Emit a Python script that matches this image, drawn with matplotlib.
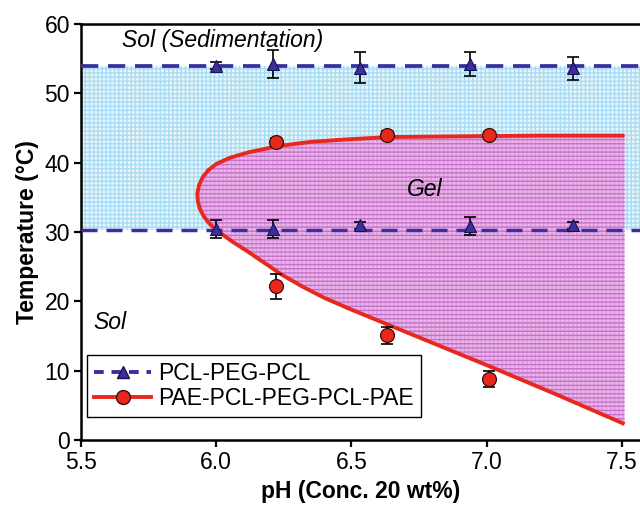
import matplotlib
matplotlib.use("Agg")
import matplotlib.pyplot as plt
from matplotlib.lines import Line2D

plt.rcParams['font.family'] = ['Liberation Sans', 'DejaVu Sans']
plt.rcParams['hatch.linewidth'] = 1.0

# PCL-PEG-PCL transitions
tri_ph = [6.00, 6.21, 6.53, 6.94, 7.32]
tri_upper = [54.0, 54.2, 53.7, 54.2, 53.6]
tri_upper_err = [0.5, 2.0, 2.2, 1.7, 1.7]
tri_lower = [30.4, 30.4, 31.0, 30.8, 31.0]
tri_lower_err = [1.3, 1.3, 0.5, 1.3, 0.5]
tri_upper_line = 54.0
tri_lower_line = 30.3

# PAE-PCL-PEG-PCL-PAE transitions
circ_ph = [6.22, 6.63, 7.01]
circ_upper = [43.0, 44.0, 44.0]
circ_upper_err = [0.6, 0.5, 0.4]
circ_lower = [22.2, 15.1, 8.8]
circ_lower_err = [1.8, 1.2, 1.2]

# Gel boundary curve
curve_ph = [7.51, 7.20, 6.90, 6.64, 6.46, 6.35, 6.23, 6.12, 6.05, 6.00, 5.97,
            5.95, 5.937, 5.93, 5.932, 5.94, 5.955, 5.975, 6.00, 6.06, 6.12,
            6.18, 6.24, 6.32, 6.40, 6.50, 6.65, 6.80, 7.00, 7.25, 7.51]
curve_T = [43.9, 43.9, 43.8, 43.7, 43.3, 43.0, 42.4, 41.5, 40.7, 39.8, 38.9,
           37.9, 36.8, 35.6, 34.4, 33.3, 32.2, 31.2, 30.3, 28.6, 27.1,
           25.5, 23.9, 22.1, 20.5, 18.8, 16.4, 14.0, 10.8, 6.7, 2.3]

blue = '#3b2f9e'
red = '#e8281e'
fs = 16.5

fig = plt.figure(figsize=(6.4, 5.05), dpi=100)
ax = fig.add_axes([81/640, 1-440/505, 1-81/640, (440-24)/505])
ax.set_xlim(5.5, 7.567)
ax.set_ylim(0, 60)

# Sol/gel regions
ax.fill_between([5.5, 7.6], tri_lower_line, tri_upper_line, facecolor='#e6f6fc',
                edgecolor='#a9dcf2', hatch='++++', linewidth=0, zorder=1)
ax.fill(curve_ph, curve_T, facecolor='#ecb6ea', edgecolor='#d89ada',
        hatch='||||', linewidth=0, zorder=2)
ax.fill(curve_ph, curve_T, facecolor='none', edgecolor='#c470ca',
        hatch='----', linewidth=0, zorder=2)

ax.axhline(tri_upper_line, color=blue, lw=2.7, ls=(0, (4.6, 2.6)), zorder=3)
ax.axhline(tri_lower_line, color=blue, lw=2.5, ls=(0, (4.6, 2.6)), zorder=3)
ax.plot(curve_ph, curve_T, color=red, lw=2.8, zorder=4, solid_capstyle='butt',
        solid_joinstyle='round')

eb = dict(fmt='none', ecolor='black', elinewidth=1.2, capsize=4.5, capthick=1.2, zorder=5)
ax.errorbar(tri_ph, tri_upper, yerr=tri_upper_err, **eb)
ax.errorbar(tri_ph, tri_lower, yerr=tri_lower_err, **eb)
ax.errorbar(circ_ph, circ_upper, yerr=circ_upper_err, **eb)
ax.errorbar(circ_ph, circ_lower, yerr=circ_lower_err, **eb)

ax.plot(tri_ph, tri_upper, ls='none', marker='^', ms=9, mfc=blue, mec='#1a1050', mew=0.8, zorder=6)
ax.plot(tri_ph, tri_lower, ls='none', marker='^', ms=9, mfc=blue, mec='#1a1050', mew=0.8, zorder=6)
ax.plot(circ_ph, circ_upper, ls='none', marker='o', ms=10, mfc=red, mec='#3a0a0a', mew=0.9, zorder=6)
ax.plot(circ_ph, circ_lower, ls='none', marker='o', ms=10, mfc=red, mec='#3a0a0a', mew=0.9, zorder=6)

ax.text(5.652, 57.6, 'Sol (Sedimentation)', style='italic', fontsize=fs, va='center', ha='left')
ax.text(6.77, 36.2, 'Gel', style='italic', fontsize=fs, va='center', ha='center')
ax.text(5.545, 17.0, 'Sol', style='italic', fontsize=fs, va='center', ha='left')

h1 = Line2D([], [], color=blue, lw=2.8, ls=(0, (2.5, 2)), marker='^', ms=9, mfc=blue, mec='#1a1050')
h2 = Line2D([], [], color=red, lw=2.8, marker='o', ms=10, mfc=red, mec='#3a0a0a')
leg = ax.legend([h1, h2], ['PCL-PEG-PCL', 'PAE-PCL-PEG-PCL-PAE'], loc='upper left',
                bbox_to_anchor=(0.011, 0.205), borderaxespad=0, fontsize=fs,
                fancybox=False, framealpha=1, edgecolor='black', handlelength=2.5,
                handletextpad=0.3, labelspacing=0.12, borderpad=0.3)
leg.get_frame().set_linewidth(1.0)
leg.set_zorder(10)

ax.set_xticks([5.5, 6.0, 6.5, 7.0, 7.5])
ax.set_xticklabels(['5.5', '6.0', '6.5', '7.0', '7.5'])
ax.set_yticks([0, 10, 20, 30, 40, 50, 60])
ax.tick_params(labelsize=fs, length=5, width=1.6, direction='out', pad=3)
for s in ['left', 'bottom', 'top']:
    ax.spines[s].set_linewidth(1.8)
ax.spines['right'].set_visible(False)

ax.set_xlabel('pH (Conc. 20 wt%)', fontsize=fs, fontweight='bold', labelpad=4)
ax.set_ylabel('Temperature (°C)', fontsize=fs, fontweight='bold', labelpad=4)

fig.savefig('out.png', dpi=100)
